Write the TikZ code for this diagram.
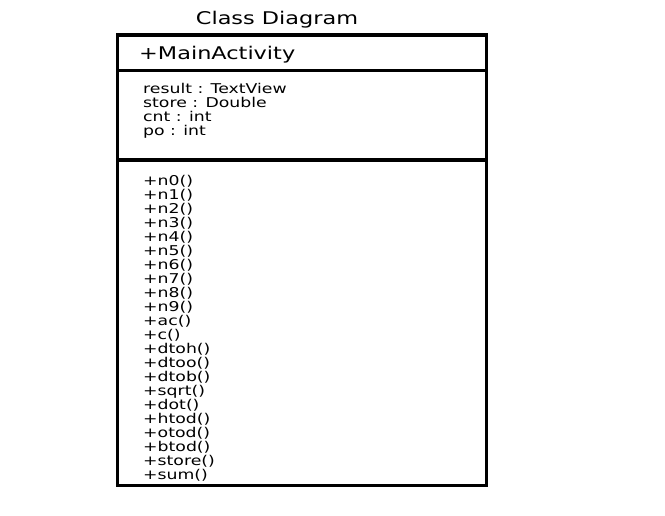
\documentclass[tikz,border=0pt]{standalone}
\usepackage{fontspec}
\newfontfamily\umlfont[FakeStretch=1.28]{DejaVu Sans}
\begin{document}
\begin{tikzpicture}[x=1pt,y=-1pt,
  frame/.style={line width=3.5pt},
  title/.style={anchor=base,inner sep=0pt,font=\umlfont\fontsize{17.5}{20}\selectfont},
  header/.style={anchor=base west,inner sep=0pt,font=\umlfont\fontsize{17.5}{20}\selectfont},
  member/.style={anchor=base west,inner sep=0pt,font=\umlfont\fontsize{13.5}{14}\selectfont}]
\useasboundingbox (0,0) rectangle (665,515);
\node[title] (title) at (277,24) {Class Diagram};
\draw[frame] (117.5,35) rectangle (486.5,485.5);
\coordinate (d1l) at (117.5,70.5);
\coordinate (d1r) at (486.5,70.5);
\coordinate (d2l) at (117.5,160);
\coordinate (d2r) at (486.5,160);
\draw[frame] (d1l) -- (d1r);
\draw[frame] (d2l) -- (d2r);
\node[header] (cls) at (139,59.5) {+MainActivity};
\foreach \t [count=\i] in {result : TextView,store : Double,cnt : int,po : int}
  \node[member] (a\i) at (143,93+14*\i-14) {\t};
\foreach \t [count=\i] in {+n0(),+n1(),+n2(),+n3(),+n4(),+n5(),+n6(),+n7(),+n8(),+n9(),+ac(),+c(),+dtoh(),+dtoo(),+dtob(),+sqrt(),+dot(),+htod(),+otod(),+btod(),+store(),+sum()}
  \node[member] (m\i) at (143,185+14*\i-14) {\t};
\end{tikzpicture}
\end{document}
